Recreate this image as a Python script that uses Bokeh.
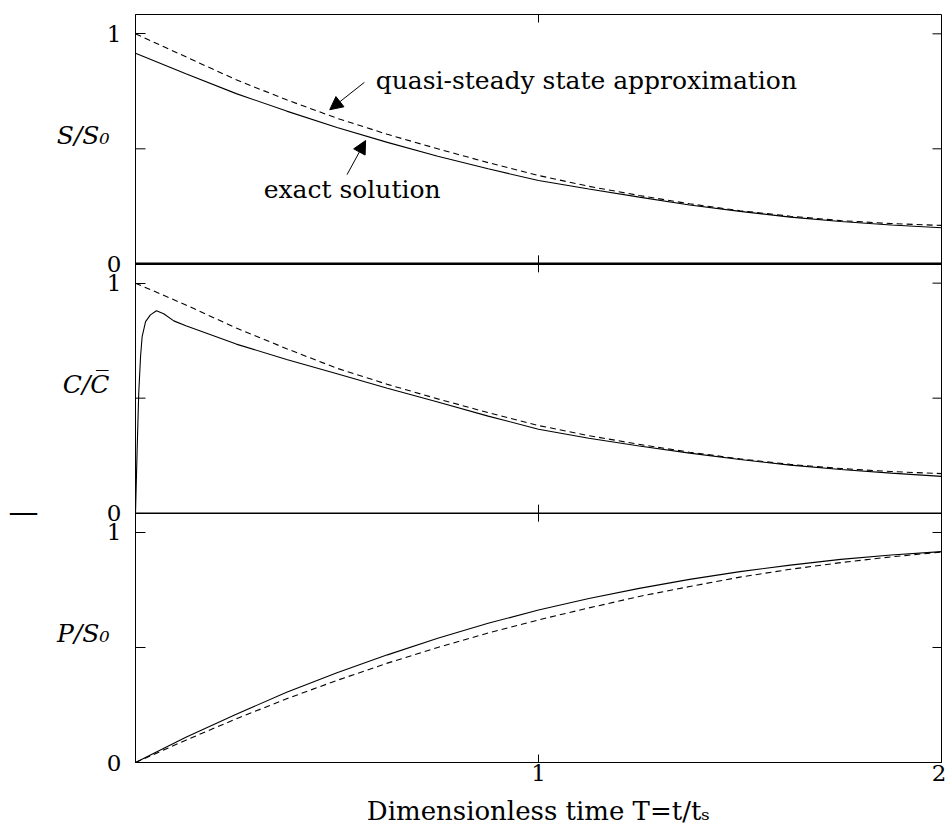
import numpy as np
from bokeh.plotting import figure
from bokeh.models import (Range1d, FixedTicker, LinearAxis, Label, Arrow,
                          NormalHead, Span)
from bokeh.embed import file_html
from bokeh.resources import INLINE

# ---------------- data ----------------
T = [0, 0.125, 0.25, 0.375, 0.5, 0.625, 0.75, 0.875, 1.0,
     1.125, 1.25, 1.375, 1.5, 1.625, 1.75, 1.875, 2.0]

S_exact = [0.916, 0.826, 0.740, 0.664, 0.593, 0.528, 0.468, 0.413, 0.362,
           0.325, 0.290, 0.256, 0.228, 0.203, 0.184, 0.169, 0.157]
S_qssa = [1.0, 0.900, 0.800, 0.713, 0.633, 0.563, 0.500, 0.440, 0.384,
          0.337, 0.297, 0.261, 0.231, 0.207, 0.188, 0.175, 0.167]

T_c = [0, 0.004, 0.008, 0.0125, 0.0165, 0.025, 0.037, 0.052, 0.070, 0.095,
       0.125, 0.25, 0.375, 0.5, 0.625, 0.75, 0.875, 1.0,
       1.125, 1.25, 1.375, 1.5, 1.625, 1.75, 1.875, 2.0]
C_exact = [0, 0.27, 0.52, 0.68, 0.768, 0.833, 0.862, 0.880, 0.867, 0.836,
           0.815, 0.735, 0.668, 0.606, 0.543, 0.483, 0.422, 0.365,
           0.326, 0.292, 0.261, 0.233, 0.209, 0.190, 0.174, 0.160]
C_qssa = [1.0, 0.905, 0.805, 0.715, 0.630, 0.560, 0.497, 0.437, 0.381,
          0.337, 0.299, 0.265, 0.236, 0.212, 0.194, 0.181, 0.172]

P_exact = [0, 0.110, 0.210, 0.305, 0.390, 0.468, 0.540, 0.605, 0.663,
           0.713, 0.757, 0.796, 0.830, 0.858, 0.883, 0.902, 0.917]
P_qssa = [0, 0.097, 0.190, 0.277, 0.357, 0.432, 0.500, 0.563, 0.620,
          0.672, 0.722, 0.765, 0.806, 0.840, 0.869, 0.894, 0.915]

y_label_ticks = [0, 1]          # labelled y ticks of every panel
y_label_text = ["0", "1"]
y_minor_ticks = [0.5]           # unlabelled y ticks
x_tick_values = [1, 2]
x_tick_labels = ["1", "2"]

panel_labels = ["P/S\u2080", "C/C\u0305", "S/S\u2080"]   # bottom, middle, top
x_title = "Dimensionless time T=t/t\u209b"
note_qssa = "quasi-steady state approximation"
note_exact = "exact solution"

# ---------------- layout ----------------
H = 1.084            # visible height of each panel in its own units
FONT = "DejaVu Serif"

p = figure(frame_width=806, frame_height=748,
           x_range=Range1d(0, 2), y_range=Range1d(0, 3 * H),
           min_border_left=135, min_border_right=5, min_border_top=14,
           min_border_bottom=10,
           x_axis_location=None, y_axis_location=None,
           output_backend="svg", toolbar_location=None)
p.extra_y_ranges = {"c": Range1d(-H, 2 * H), "s": Range1d(-2 * H, H)}
p.outline_line_color = "black"
p.outline_line_width = 1
p.background_fill_color = "white"
p.border_fill_color = "white"
p.grid.grid_line_color = None

# inner left axis: 0 / 1 of each panel (P bottom, C middle, S top)
ticks, overrides = [], {}
for k in range(3):
    for v, lab in zip(y_label_ticks, y_label_text):
        t = round(k * H + v, 6)
        ticks.append(t)
        overrides[t] = lab
left = LinearAxis(ticker=FixedTicker(ticks=ticks), major_label_overrides=overrides,
                  major_tick_in=10, major_tick_out=0, minor_tick_line_color=None,
                  axis_line_color="black", major_tick_line_color="black",
                  major_label_standoff=14, major_label_text_font=FONT,
                  major_label_text_font_size="23px", major_label_text_color="black")
p.add_layout(left, "left")

# outer left axis carrying the horizontal panel names
name_ticks, name_over = [], {}
for k, lab in enumerate(panel_labels):
    t = round(k * H + 0.56, 6)
    name_ticks.append(t)
    name_over[t] = lab
names = LinearAxis(ticker=FixedTicker(ticks=name_ticks), major_label_overrides=name_over,
                   major_tick_in=0, major_tick_out=0, minor_tick_line_color=None,
                   major_tick_line_color=None, axis_line_color=None,
                   major_label_standoff=-6, major_label_text_font=FONT,
                   major_label_text_font_style="italic",
                   major_label_text_font_size="25px", major_label_text_color="black")
p.add_layout(names, "left")

# outermost: the short stray rule level with the C/P boundary
stray_t = round(H + 0.008, 6)
stray = LinearAxis(ticker=FixedTicker(ticks=[stray_t]),
                   major_label_overrides={stray_t: "\u2014"},
                   major_tick_in=0, major_tick_out=0, minor_tick_line_color=None,
                   major_tick_line_color=None, axis_line_color=None,
                   major_label_standoff=15, major_label_text_font=FONT,
                   major_label_text_font_size="30px", major_label_text_color="black")
p.add_layout(stray, "left")

bottom = LinearAxis(ticker=FixedTicker(ticks=x_tick_values),
                    major_label_overrides=dict(zip(x_tick_values, x_tick_labels)),
                    major_tick_in=8, major_tick_out=0, minor_tick_line_color=None,
                    major_label_standoff=2, major_label_text_font=FONT,
                    major_label_text_font_size="23px", major_label_text_color="black",
                    axis_label=x_title, axis_label_text_font=FONT,
                    axis_label_text_font_size="26px", axis_label_text_font_style="normal",
                    axis_label_standoff=12, axis_label_text_color="black",
                    axis_line_color="black")
p.add_layout(bottom, "below")

# unlabelled inward ticks (half of each dash is clipped by the frame)
half_y = [k * H + v for k in range(3) for v in y_minor_ticks]
p.scatter(x=[0] * len(half_y), y=half_y, marker="dash", size=20,
          line_color="black", line_width=1)
right_y = [k * H + v for k in range(3) for v in (y_minor_ticks + [1])]
p.scatter(x=[2] * len(right_y), y=right_y, marker="dash", size=18,
          line_color="black", line_width=1)
p.scatter(x=[1], y=[3 * H], marker="dash", size=16, angle=np.pi / 2,
          line_color="black", line_width=1)

# panel separators and the x=1 ticks on them
p.add_layout(Span(location=H, dimension="width", line_color="black", line_width=1.5))
p.add_layout(Span(location=2 * H, dimension="width", line_color="black", line_width=2.5))
p.scatter(x=[1, 1], y=[H, 2 * H], marker="dash", size=17, angle=np.pi / 2,
          line_color="black", line_width=1)

# ---------------- curves ----------------
p.line(T, S_exact, y_range_name="s", line_color="black", line_width=1.1)
p.line(T, S_qssa, y_range_name="s", line_color="black", line_width=1.1, line_dash="6 4")
p.line(T_c, C_exact, y_range_name="c", line_color="black", line_width=1.1)
p.line(T, C_qssa, y_range_name="c", line_color="black", line_width=1.1, line_dash="6 4")
p.line(T, P_exact, line_color="black", line_width=1.1)
p.line(T, P_qssa, line_color="black", line_width=1.1, line_dash="6 4")

# ---------------- annotations ----------------
p.add_layout(Label(x=0.596, y=0.798, y_range_name="s", text=note_qssa,
                   text_align="left", text_baseline="alphabetic",
                   text_font=FONT, text_font_size="25px", text_color="black"))
p.add_layout(Label(x=0.318, y=0.323, y_range_name="s", text=note_exact,
                   text_align="left", text_baseline="alphabetic",
                   text_font=FONT, text_font_size="25px", text_color="black"))
p.add_layout(Arrow(x_start=0.568, y_start=0.789, x_end=0.482, y_end=0.670,
                   y_range_name="s", line_color="black", line_width=1,
                   end=NormalHead(size=13, fill_color="black", line_color="black")))
p.add_layout(Arrow(x_start=0.525, y_start=0.388, x_end=0.571, y_end=0.536,
                   y_range_name="s", line_color="black", line_width=1,
                   end=NormalHead(size=13, fill_color="black", line_color="black")))

open("out.html", "w").write(file_html(p, INLINE))
